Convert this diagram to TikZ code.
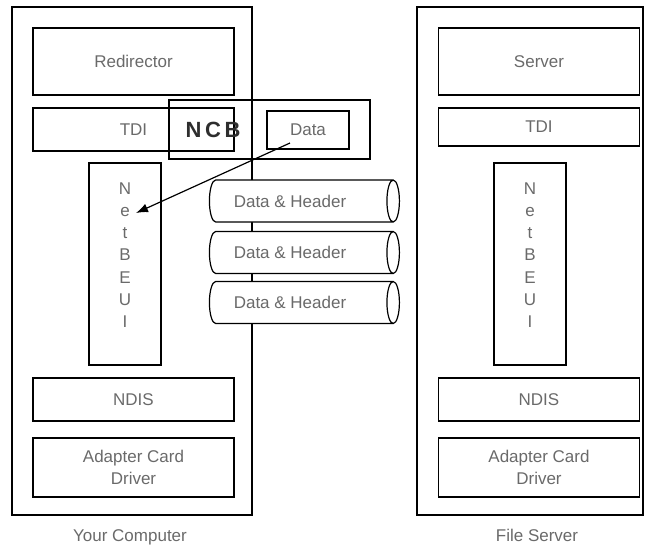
\documentclass[tikz,border=0pt]{standalone}
\usepackage{fontspec}
\setmainfont{Liberation Sans}
\usetikzlibrary{arrows.meta,shapes.geometric}
\definecolor{lblGray}{HTML}{6A6A6A}
\definecolor{ncbDark}{HTML}{2E2E2E}
\newcommand{\lblfont}{\fontsize{17}{20}\selectfont}

\tikzset{
  machine/.style={draw,line width=1.2pt,minimum width=#1,minimum height=508pt,inner sep=0pt},
  layer/.style={draw,line width=1.2pt,minimum width=201pt,inner sep=0pt,
    text=lblGray,font=\lblfont,align=center},
  stackbox/.style={draw,line width=1.2pt,minimum width=72pt,minimum height=202pt,inner sep=0pt},
  packet/.style={cylinder,draw,fill=white,line width=1.2pt,shape aspect=1,
    minimum width=42pt,minimum height=190pt,inner sep=0pt,text=lblGray,font=\lblfont},
  caption/.style={text=lblGray,font=\lblfont}
}

\begin{document}
\begin{tikzpicture}[x=1pt,y=-1pt]
  \useasboundingbox (0,0) rectangle (646,547);

  % the two machines
  \node[machine=240pt] (client) at (132,261) {};
  \node[machine=226pt] (server) at (530,261) {};
  \node[caption,anchor=base] (clientlbl) at (130,541) {Your Computer};
  \node[caption,anchor=base] (serverlbl) at (537,541) {File Server};

  % client side stack
  \node[layer,minimum height=67pt] (redir) at (133.5,61.5) {Redirector};
  \node[layer,minimum height=43pt] (tdiA) at (133.5,129.5) {TDI};
  \node[stackbox] (nbA) at (125,264) {};
  \node[layer,minimum height=43pt] (ndisA) at (133.5,399.5) {NDIS};
  \node[layer,minimum height=59pt] (adapterA) at (133.5,467.5) {Adapter Card\\[2pt]Driver};

  % server side stack
  \node[layer,minimum height=67pt] (srv) at (539,61.5) {Server};
  \node[layer,minimum height=38pt] (tdiB) at (539,127) {TDI};
  \node[stackbox] (nbB) at (530,264) {};
  \node[layer,minimum height=43pt] (ndisB) at (539,399.5) {NDIS};
  \node[layer,minimum height=59pt] (adapterB) at (539,467.5) {Adapter Card\\[2pt]Driver};

  % NetBEUI written downwards
  \foreach \ch [count=\i] in {N,e,t,B,E,U,I}{
    \node[caption,text height=12pt,text depth=0pt,inner sep=0pt] (nbA\i) at (125,{188+22.3*(\i-1)}) {\ch};
    \node[caption,text height=12pt,text depth=0pt,inner sep=0pt] (nbB\i) at (530,{188+22.3*(\i-1)}) {\ch};
  }

  % NCB with its data
  \node[draw,line width=1.2pt,minimum width=201pt,minimum height=59pt,inner sep=0pt] (ncb) at (269.5,129.5) {};
  \node[text=ncbDark,font=\fontsize{22}{24}\selectfont\bfseries] (ncblbl) at (213,130) {N\,C\,B};
  \node[layer,minimum width=82pt,minimum height=38pt] (data) at (308,130) {Data};

  % packets on the wire
  \node[packet] (pktA) at (301,201) {Data \& Header\hspace*{22pt}};
  \node[packet] (pktB) at (301,252.5) {Data \& Header\hspace*{22pt}};
  \node[packet] (pktC) at (301,302.5) {Data \& Header\hspace*{22pt}};

  % data handed down to NetBEUI
  \coordinate (dataout) at (290,143);
  \coordinate (hit) at (136,213);
  \draw[line width=1.2pt,-{Latex[length=12pt,width=9pt]}] (dataout) -- (hit);
\end{tikzpicture}
\end{document}
